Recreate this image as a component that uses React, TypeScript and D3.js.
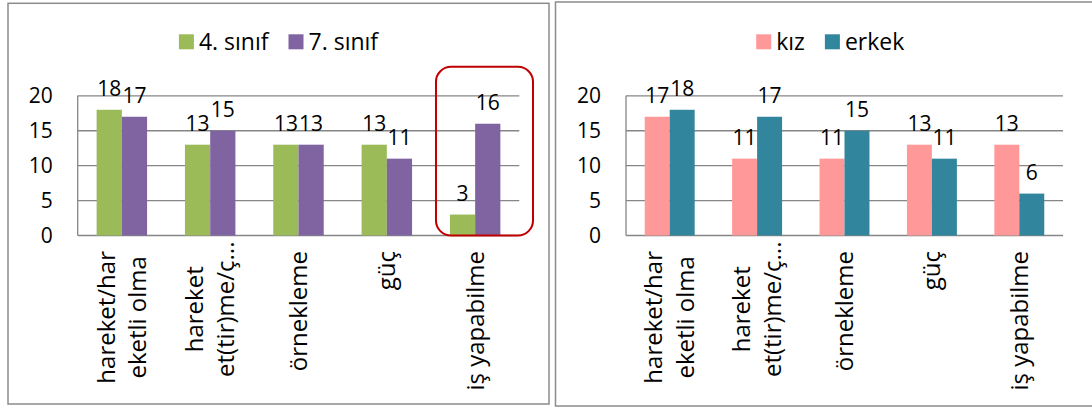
import React, { useEffect, useRef } from "react";
import * as d3 from "d3";

const categories = [
  "hareket/har\neketli olma",
  "hareket\net(tir)me/ç...",
  "örnekleme",
  "güç",
  "iş yapabilme",
];
const gradeNames = ["4. sınıf", "7. sınıf"];
const grade4 = [18, 13, 13, 13, 3];
const grade7 = [17, 15, 13, 11, 16];
const genderNames = ["kız", "erkek"];
const girls = [17, 11, 11, 13, 13];
const boys = [18, 17, 15, 11, 6];
const yTicks = [0, 5, 10, 15, 20];

const FONT = "'Open Sans', sans-serif";
const W = 1092;
const H = 408;

type Panel = {
  bx0: number;
  bx1: number;
  by0: number;
  by1: number;
  pl: number;
  pr: number;
  names: string[];
  values: number[][];
  colors: string[];
  highlightLast?: boolean;
};

function drawPanel(svg: d3.Selection<SVGSVGElement, unknown, null, undefined>, cfg: Panel) {
  const g = svg.append("g");
  g.append("rect")
    .attr("x", cfg.bx0)
    .attr("y", cfg.by0)
    .attr("width", cfg.bx1 - cfg.bx0)
    .attr("height", cfg.by1 - cfg.by0)
    .attr("fill", "#fff")
    .attr("stroke", "#8c8c8c")
    .attr("stroke-width", 1.5);

  const x = d3.scaleBand<string>().domain(categories).range([cfg.pl, cfg.pr]).padding(0);
  const xs = d3
    .scaleBand<string>()
    .domain(cfg.names)
    .range([0, x.bandwidth()])
    .paddingInner(0)
    .paddingOuter(0.75);
  const y = d3.scaleLinear().domain([0, 20]).range([235.5, 95.8]);

  // gridlines
  g.selectAll("line.grid")
    .data(yTicks)
    .enter()
    .append("line")
    .attr("x1", cfg.pl)
    .attr("x2", cfg.pr)
    .attr("y1", (d) => y(d))
    .attr("y2", (d) => y(d))
    .attr("stroke", "#868686")
    .attr("stroke-width", 1.3);
  // vertical axis
  g.append("line")
    .attr("x1", cfg.pl)
    .attr("x2", cfg.pl)
    .attr("y1", y(20))
    .attr("y2", y(0))
    .attr("stroke", "#868686")
    .attr("stroke-width", 1.3);

  // tick labels
  g.selectAll("text.tick")
    .data(yTicks)
    .enter()
    .append("text")
    .attr("x", cfg.pl - 25)
    .attr("y", (d) => y(d))
    .attr("dy", "0.36em")
    .attr("text-anchor", "end")
    .attr("font-family", FONT)
    .attr("font-size", 21)
    .attr("fill", "#000")
    .text((d) => String(d));

  // bars
  cfg.names.forEach((name, si) => {
    g.selectAll(null)
      .data(cfg.values[si])
      .enter()
      .append("rect")
      .attr("x", (_d, i) => (x(categories[i]) as number) + (xs(name) as number))
      .attr("y", (d) => y(d))
      .attr("width", xs.bandwidth())
      .attr("height", (d) => y(0) - y(d))
      .attr("fill", cfg.colors[si]);
  });
  // data labels
  cfg.names.forEach((name, si) => {
    g.selectAll(null)
      .data(cfg.values[si])
      .enter()
      .append("text")
      .attr("x", (_d, i) => (x(categories[i]) as number) + (xs(name) as number) + xs.bandwidth() / 2)
      .attr("y", (d) => y(d) - 14)
      .attr("text-anchor", "middle")
      .attr("font-family", FONT)
      .attr("font-size", 21)
      .attr("fill", "#000")
      .text((d) => String(d));
  });

  // category labels (rotated, wrapped)
  categories.forEach((cat) => {
    const lines = cat.split("\n");
    const cx = (x(cat) as number) + x.bandwidth() / 2;
    const grp = g.append("g");
    const texts = lines.map((ln, li) => {
      const t = grp
        .append("text")
        .attr("font-family", FONT)
        .attr("font-size", 24)
        .attr("fill", "#000")
        .attr("text-anchor", "middle")
        .text(ln);
      return { t, li, ln };
    });
    let maxW = 0;
    texts.forEach(({ t, ln }) => {
      const node = t.node() as SVGTextElement;
      let w = node.getComputedTextLength();
      if (ln.endsWith("...")) {
        const tmp = grp
          .append("text")
          .attr("font-family", FONT)
          .attr("font-size", 24)
          .text(ln.replace(/\.\.\.$/, ""));
        w = (tmp.node() as SVGTextElement).getComputedTextLength();
        tmp.remove();
      }
      maxW = Math.max(maxW, w);
    });
    const cy = 251 + maxW / 2;
    texts.forEach(({ t, li }) => {
      const bx = cx + (li - (lines.length - 1) / 2) * 31.6 + 8.5;
      t.attr("transform", `translate(${bx},${cy}) rotate(-90)`);
    });
  });

  // highlight rounded rect around last category
  if (cfg.highlightLast) {
    const last = categories[categories.length - 1];
    const lx = (x(last) as number) + 5;
    const rx2 = (x(last) as number) + x.bandwidth() + 13.7;
    g.append("rect")
      .attr("x", lx)
      .attr("y", y(20) - 29)
      .attr("width", rx2 - lx)
      .attr("height", y(0) - (y(20) - 29))
      .attr("rx", 15)
      .attr("ry", 15)
      .attr("fill", "none")
      .attr("stroke", "#C00000")
      .attr("stroke-width", 2);
  }

  // legend
  const leg = g.append("g");
  let cursor = 0;
  cfg.names.forEach((name, si) => {
    const sq = leg
      .append("rect")
      .attr("width", 15)
      .attr("height", 15)
      .attr("y", 34.3)
      .attr("fill", cfg.colors[si]);
    const t = leg
      .append("text")
      .attr("y", 49.5)
      .attr("font-family", FONT)
      .attr("font-size", 23)
      .attr("fill", "#000")
      .text(name);
    sq.attr("x", cursor);
    t.attr("x", cursor + 20);
    const w = (t.node() as SVGTextElement).getComputedTextLength();
    cursor += 20 + w + (si < cfg.names.length - 1 ? 20 : 0);
  });
  const center = (cfg.bx0 + cfg.bx1) / 2;
  leg.attr("transform", `translate(${center - cursor / 2},0)`);
}

export default function App() {
  const ref = useRef<SVGSVGElement>(null);
  useEffect(() => {
    const svg = d3.select(ref.current as SVGSVGElement);
    svg.selectAll("*").remove();
    svg.append("rect").attr("width", W).attr("height", H).attr("fill", "#fff");
    drawPanel(svg, {
      bx0: 8,
      bx1: 549,
      by0: 3.3,
      by1: 404,
      pl: 77.7,
      pr: 519.3,
      names: gradeNames,
      values: [grade4, grade7],
      colors: ["#9BBB59", "#8064A2"],
      highlightLast: true,
    });
    drawPanel(svg, {
      bx0: 555.5,
      bx1: 1105,
      by0: 2,
      by1: 406,
      pl: 626,
      pr: 1063,
      names: genderNames,
      values: [girls, boys],
      colors: ["#FF9999", "#31859C"],
    });
  }, []);
  return (
    <div style={{ position: "absolute", left: 0, top: 0 }}>
      <svg ref={ref} width={W} height={H} style={{ display: "block" }} />
    </div>
  );
}
